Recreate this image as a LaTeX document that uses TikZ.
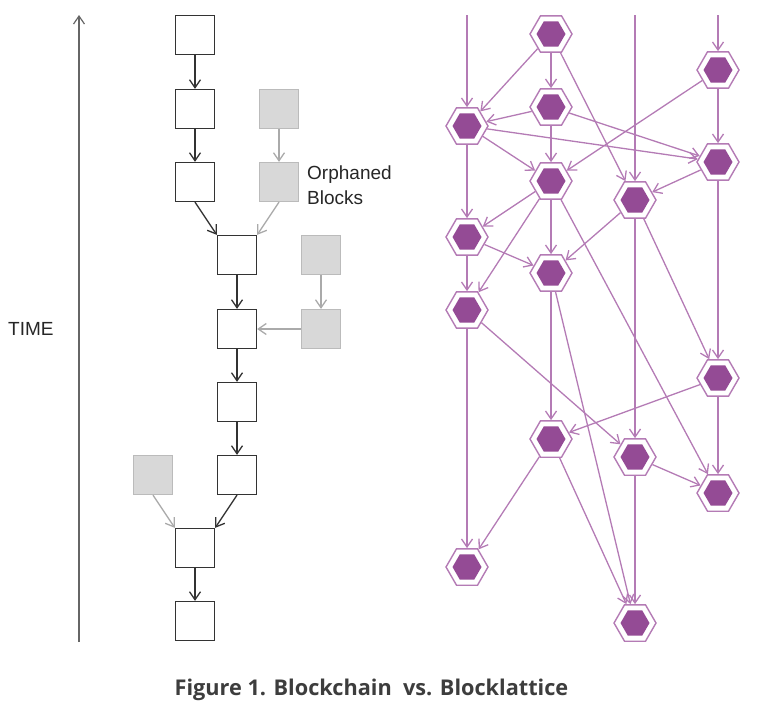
\documentclass[tikz,border=0pt]{standalone}
\usepackage{fontspec}
\setmainfont{Liberation Sans}
\newfontfamily\capfont{Open Sans}
\usetikzlibrary{shapes.geometric,arrows.meta}
\definecolor{hexline}{HTML}{B47BB5}
\definecolor{hexfill}{HTML}{944B95}
\definecolor{blkline}{HTML}{333333}
\definecolor{orline}{HTML}{BBBBBB}
\definecolor{orfill}{HTML}{D8D8D8}
\definecolor{orarrow}{HTML}{AAAAAA}
\definecolor{axisgray}{HTML}{666666}
\definecolor{captext}{HTML}{3D3D3D}
\tikzset{
  tip/.style={-{Straight Barb[length=8pt,width=11pt]}},
  blk/.style={draw=blkline, line width=1.3pt, fill=white, minimum size=39pt, inner sep=0pt},
  orph/.style={draw=orline, line width=1.3pt, fill=orfill, minimum size=39pt, inner sep=0pt},
  blkarrow/.style={tip, draw=blkline, line width=1.3pt},
  orarr/.style={tip, draw=orarrow, line width=1.3pt},
  hexout/.style={regular polygon, regular polygon sides=6, draw=hexline, line width=1.4pt, fill=white, minimum size=42pt, inner sep=0pt},
  hexin/.style={regular polygon, regular polygon sides=6, fill=hexfill, minimum size=29pt, inner sep=0pt},
  hexarr/.style={tip, draw=hexline, line width=1.3pt},
  lbl/.style={font=\fontsize{19}{22}\selectfont, text=black!85, inner sep=0pt}
}
\begin{document}
\begin{tikzpicture}[x=1pt,y=-1pt]
\useasboundingbox (0,0) rectangle (775,716);
% time axis
\coordinate (tbot) at (79,642);
\coordinate (ttop) at (79,15);
\draw[tip, draw=axisgray, line width=1.2pt] (tbot) -- (ttop);
\node[lbl, anchor=base west] (time) at (8,335) {TIME};
% blockchain
\node[blk] (s1) at (195,35) {};
\node[blk] (s2) at (195,109) {};
\node[blk] (s3) at (195,182) {};
\node[blk] (s4) at (237,255) {};
\node[blk] (s5) at (237,329) {};
\node[blk] (s6) at (237,402) {};
\node[blk] (s7) at (237,475) {};
\node[blk] (s8) at (195,548) {};
\node[blk] (s9) at (195,621) {};
\node[orph] (g1) at (279,109) {};
\node[orph] (g2) at (279,182) {};
\node[orph] (g3) at (321,255) {};
\node[orph] (g4) at (321,329) {};
\node[orph] (g5) at (153,475) {};
\draw[blkarrow] (s1) -- (s2);
\draw[blkarrow] (s2) -- (s3);
\draw[blkarrow] (s3.south) -- (s4.north west);
\draw[blkarrow] (s4) -- (s5);
\draw[blkarrow] (s5) -- (s6);
\draw[blkarrow] (s6) -- (s7);
\draw[blkarrow] (s7.south) -- (s8.north east);
\draw[blkarrow] (s8) -- (s9);
\draw[orarr] (g1) -- (g2);
\draw[orarr] (g2.south) -- (s4.north east);
\draw[orarr] (g3) -- (g4);
\draw[orarr] (g4) -- (s5);
\draw[orarr] (g5.south) -- (s8.north west);
\node[lbl, anchor=base west] (orph1) at (307,179) {Orphaned};
\node[lbl, anchor=base west] (orph2) at (307,204) {Blocks};
% blocklattice
\foreach \n/\x/\y in {a/551/34, b/718/70, c/551/107, d/467/126, e/718/162, f/551/181, g/635/200, h/467/237, i/551/273, j/467/310, k/718/378, l/551/439, m/635/457, n/718/493, o/467/567, p/635/623}{
  \node[hexout] (h\n) at (\x,\y) {};
  \node[hexin] (h\n in) at (\x,\y) {};
}
\coordinate (top1) at (467,15);
\coordinate (top3) at (635,15);
\coordinate (top4) at (718,15);
\draw[hexarr] (top1) -- (hd);
\draw[hexarr] (top3) -- (hg);
\draw[hexarr] (top4) -- (hb);
\foreach \s/\t in {a/d, a/c, a/g, b/e, b/f, c/d, c/e, c/f, d/e, d/f, d/h, e/g, e/k, f/h, f/i, f/j, f/n, g/i, g/m, g/k, h/i, h/j, i/l, i/p, j/o, j/m, k/l, k/n, l/o, l/p, m/n, m/p}{
  \draw[hexarr] (h\s) -- (h\t);
}
\node[font=\capfont\bfseries\fontsize{21.7}{24}\selectfont, text=captext, anchor=base] (cap) at (371.5,695) {Figure 1. Blockchain\ \ vs. Blocklattice};
\end{tikzpicture}
\end{document}
